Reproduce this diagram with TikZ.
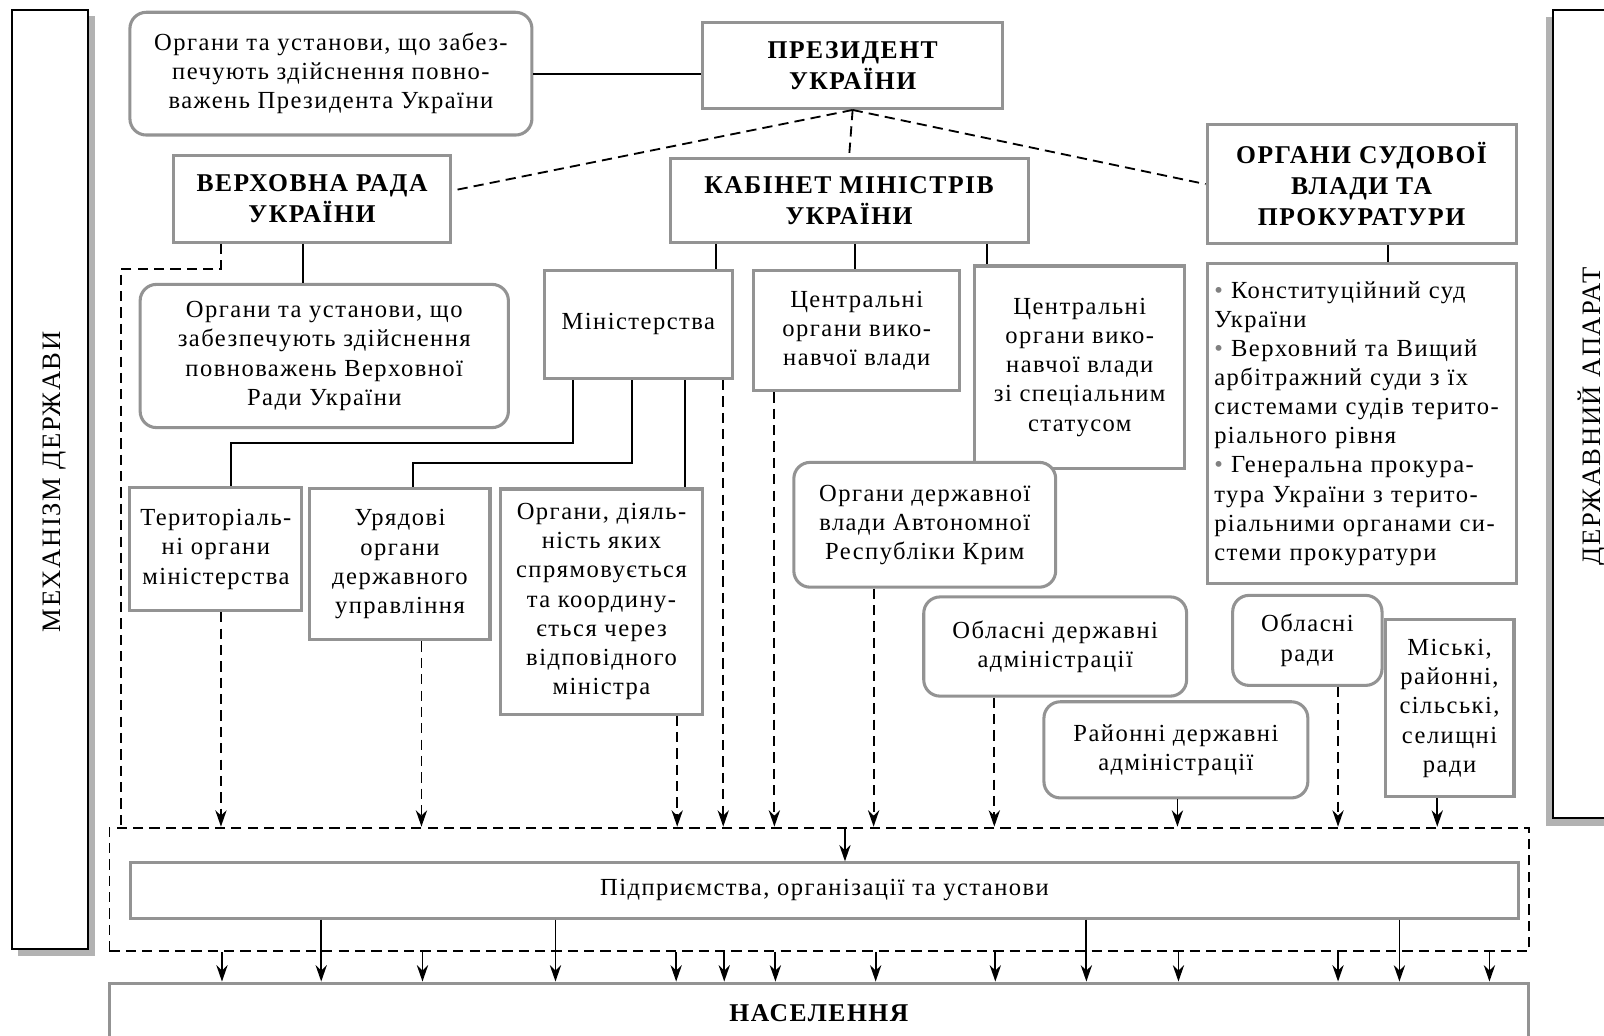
\documentclass[tikz,border=0pt]{standalone}
\usepackage{fontspec}
\setmainfont{Liberation Serif}[LetterSpace=6]
\usetikzlibrary{arrows.meta}

\begin{document}
\begin{tikzpicture}[x=1pt, y=-1pt, >={Stealth[length=16pt,width=11pt]},
    box/.style={draw=gray!85, line width=3pt, fill=white, align=center, inner sep=0pt,
      font=\fontsize{24}{28.5}\selectfont},
    rbox/.style={box, rounded corners=16pt},
    head/.style={box, font=\fontsize{25}{30}\selectfont\bfseries},
    link/.style={line width=1.8pt},
    dlink/.style={line width=1.8pt, dash pattern=on 10pt off 6pt},
    side/.style={draw=black, line width=2pt, fill=white}]

    \useasboundingbox (0,0) rectangle (1568,1012);

    \fill[gray!60] (18,16) rectangle (93,935);
    \draw[side] (12,10) rectangle (86,928);
    \node[rotate=90, font=\fontsize{26}{30}\selectfont] (mech) at (53,471) {МЕХАНІЗМ ДЕРЖАВИ};
    \fill[gray!60] (1511,17) rectangle (1600,807);
    \draw[side] (1518,10) rectangle (1610,800);
    \node[rotate=90, font=\fontsize{26}{30}\selectfont] (apparat) at (1556,407) {ДЕРЖАВНИЙ АПАРАТ};

    \node[head, minimum width=293pt, minimum height=84pt] (pres) at (833.5,64) {ПРЕЗИДЕНТ\\УКРАЇНИ};
    \node[rbox, minimum width=393pt, minimum height=120pt] (presorg) at (323.5,72)
        {Органи та установи, що забез-\\печують здійснення повно-\\важень Президента України};
    \node[head, minimum width=270pt, minimum height=85pt] (rada) at (305,194.5) {ВЕРХОВНА РАДА\\УКРАЇНИ};
    \node[head, minimum width=350pt, minimum height=82pt] (kmu) at (830,196) {КАБІНЕТ МІНІСТРІВ\\УКРАЇНИ};
    \node[head, minimum width=302pt, minimum height=116pt] (court) at (1331,180)
        {ОРГАНИ СУДОВОЇ\\ВЛАДИ ТА\\ПРОКУРАТУРИ};

    \node[rbox, minimum width=360pt, minimum height=140pt] (radaorg) at (317,348)
        {Органи та установи, що\\забезпечують здійснення\\повноважень Верховної\\Ради України};
    \node[box, minimum width=184pt, minimum height=106pt] (minist) at (624,317) {Міністерства};
    \node[box, minimum width=201pt, minimum height=118pt] (cova) at (837.5,323)
        {Центральні\\органи вико-\\навчої влади};
    \node[box, minimum width=205pt, minimum height=198pt] (covas) at (1055.5,359)
        {Центральні\\органи вико-\\навчої влади\\зі спеціальним\\статусом};
    \node[box, align=left, text width=288pt, minimum width=302pt, minimum height=312pt] (courts) at (1331,414)
        {\textcolor{gray}{•} Конституційний суд\\України\\\textcolor{gray}{•} Верховний та Вищий\\арбітражний суди з їх\\системами судів терито-\\ріального рівня\\\textcolor{gray}{•} Генеральна прокура-\\тура України з терито-\\ріальними органами си-\\стеми прокуратури};

    \node[box, minimum width=168pt, minimum height=120pt] (terr) at (211,537)
        {Територіаль-\\ні органи\\міністерства};
    \node[box, minimum width=176pt, minimum height=148pt] (gov) at (391,551.5)
        {Урядові\\органи\\державного\\управління};
    \node[box, minimum width=197pt, minimum height=220pt] (coord) at (588,588)
        {Органи, діяль-\\ність яких\\спрямовується\\та координу-\\ється через\\відповідного\\міністра};
    \node[rbox, minimum width=256pt, minimum height=122pt] (crimea) at (904,513)
        {Органи державної\\влади Автономної\\Республіки Крим};
    \node[rbox, minimum width=257pt, minimum height=97pt] (oda) at (1031.5,632) {Обласні державні\\адміністрації};
    \node[rbox, minimum width=258pt, minimum height=94pt] (rda) at (1149.5,733) {Районні державні\\адміністрації};
    \node[rbox, minimum width=146pt, minimum height=88pt] (orada) at (1278,626) {Обласні\\ради};
    \node[box, minimum width=126pt, minimum height=173pt] (mrada) at (1417,692.5)
        {Міські,\\районні,\\сільські,\\селищні\\ради};

    \node[dlink, draw, minimum width=1388pt, minimum height=121pt] (zone) at (801,869.5) {};
    \node[box, minimum width=1357pt, minimum height=54pt] (firms) at (806,870.5)
        {Підприємства, організації та установи};
    \node[head, minimum width=1387pt, minimum height=58pt] (people) at (800.5,990) {НАСЕЛЕННЯ};

    \draw[link] (presorg.east) -- (presorg.east -| pres.west);
    \draw[dlink] (pres.south) -- ([yshift=8pt]rada.east);
    \draw[dlink] (pres.south) -- (kmu.north);
    \draw[dlink] (pres.south) -- (court.west);

    \draw[link] (296,0 |- rada.south) -- (296,0 |- radaorg.north);
    \draw[dlink] (216,0 |- rada.south) -- (216,263) -- (118,263) -- (118,0 |- zone.north);
    \draw[link] (700,0 |- kmu.south) -- (700,0 |- minist.north);
    \draw[link] (836,0 |- kmu.south) -- (836,0 |- cova.north);
    \draw[link] (965,0 |- kmu.south) -- (965,0 |- covas.north);
    \draw[link] (1357,0 |- court.south) -- (1357,0 |- courts.north);

    \draw[link] (560,0 |- minist.south) -- (560,433) -- (226,433) -- (226,0 |- terr.north);
    \draw[link] (618,0 |- minist.south) -- (618,453) -- (404,453) -- (404,0 |- gov.north);
    \draw[link] (670,0 |- minist.south) -- (670,0 |- coord.north);

    \draw[dlink, ->] (216,0 |- terr.south) -- (216,0 |- zone.north);
    \draw[dlink, ->] (412,0 |- gov.south) -- (412,0 |- zone.north);
    \draw[dlink, ->] (662,0 |- coord.south) -- (662,0 |- zone.north);
    \draw[dlink, ->] (707,0 |- minist.south) -- (707,0 |- zone.north);
    \draw[dlink, ->] (757,0 |- cova.south) -- (757,0 |- zone.north);
    \draw[dlink, ->] (854,0 |- crimea.south) -- (854,0 |- zone.north);
    \draw[dlink, ->] (972,0 |- oda.south) -- (972,0 |- zone.north);
    \draw[link, ->] (1151,0 |- rda.south) -- (1151,0 |- zone.north);
    \draw[dlink, ->] (1308,0 |- orada.south) -- (1308,0 |- zone.north);
    \draw[link, ->] (1405,0 |- mrada.south) -- (1405,0 |- zone.north);
    \draw[link, ->] (826,0 |- zone.north) -- (826,0 |- firms.north);

    \draw[link, ->] (217,0 |- zone.south) -- (217,0 |- people.north);
    \draw[link, ->] (413,0 |- zone.south) -- (413,0 |- people.north);
    \draw[link, ->] (661,0 |- zone.south) -- (661,0 |- people.north);
    \draw[link, ->] (708,0 |- zone.south) -- (708,0 |- people.north);
    \draw[link, ->] (758,0 |- zone.south) -- (758,0 |- people.north);
    \draw[link, ->] (856,0 |- zone.south) -- (856,0 |- people.north);
    \draw[link, ->] (973,0 |- zone.south) -- (973,0 |- people.north);
    \draw[link, ->] (1152,0 |- zone.south) -- (1152,0 |- people.north);
    \draw[link, ->] (1308,0 |- zone.south) -- (1308,0 |- people.north);
    \draw[link, ->] (1456,0 |- zone.south) -- (1456,0 |- people.north);
    \draw[link, ->] (314,0 |- firms.south) -- (314,0 |- people.north);
    \draw[link, ->] (543,0 |- firms.south) -- (543,0 |- people.north);
    \draw[link, ->] (1062,0 |- firms.south) -- (1062,0 |- people.north);
    \draw[link, ->] (1368,0 |- firms.south) -- (1368,0 |- people.north);
\end{tikzpicture}
\end{document}
